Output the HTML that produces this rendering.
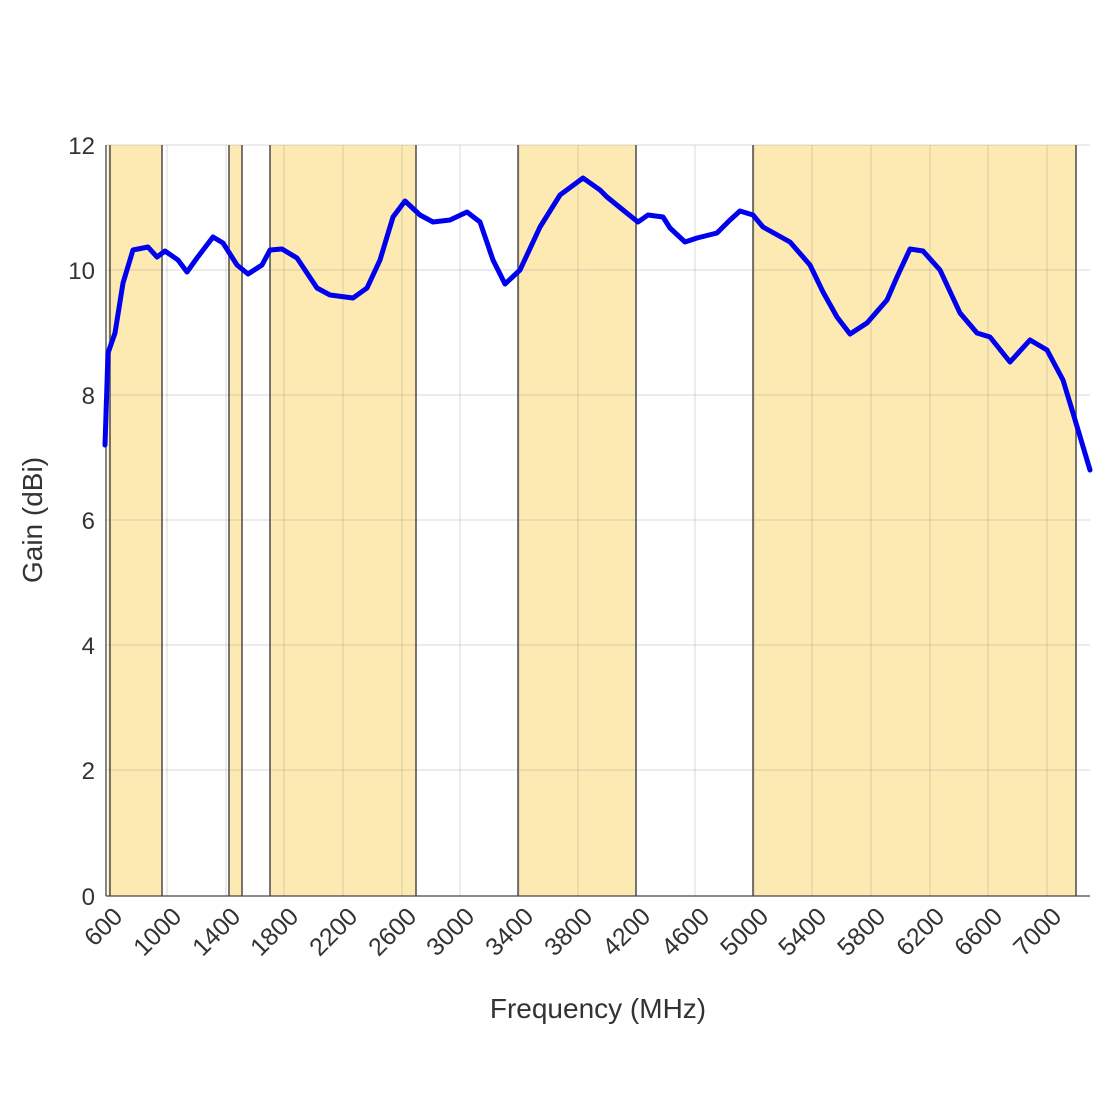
<!DOCTYPE html>
<html><head><meta charset="utf-8"><style>body{margin:0;background:#fff}svg text{font-family:"Liberation Sans",sans-serif;fill:#333}</style></head>
<body>
<svg width="1100" height="1100" viewBox="0 0 1100 1100">
<g fill="#fde9b2">
<rect x="108" y="145" width="54" height="751"/>
<rect x="229" y="145" width="13" height="751"/>
<rect x="270" y="145" width="146" height="751"/>
<rect x="518" y="145" width="118" height="751"/>
<rect x="753" y="145" width="323" height="751"/>
</g>
<g stroke="#888" stroke-opacity="0.25" stroke-width="1.2">
<line x1="106" y1="145" x2="1090" y2="145"/><line x1="106" y1="270" x2="1090" y2="270"/><line x1="106" y1="395" x2="1090" y2="395"/><line x1="106" y1="520" x2="1090" y2="520"/><line x1="106" y1="645" x2="1090" y2="645"/><line x1="106" y1="770" x2="1090" y2="770"/>
<line x1="167" y1="145" x2="167" y2="896"/><line x1="226" y1="145" x2="226" y2="896"/><line x1="284" y1="145" x2="284" y2="896"/><line x1="343" y1="145" x2="343" y2="896"/><line x1="402" y1="145" x2="402" y2="896"/><line x1="460" y1="145" x2="460" y2="896"/><line x1="519" y1="145" x2="519" y2="896"/><line x1="578" y1="145" x2="578" y2="896"/><line x1="636" y1="145" x2="636" y2="896"/><line x1="695" y1="145" x2="695" y2="896"/><line x1="754" y1="145" x2="754" y2="896"/><line x1="812" y1="145" x2="812" y2="896"/><line x1="871" y1="145" x2="871" y2="896"/><line x1="930" y1="145" x2="930" y2="896"/><line x1="988" y1="145" x2="988" y2="896"/><line x1="1047" y1="145" x2="1047" y2="896"/>
</g>
<g stroke="#555" stroke-width="1.6">
<line x1="110" y1="145" x2="110" y2="896"/><line x1="162" y1="145" x2="162" y2="896"/><line x1="229" y1="145" x2="229" y2="896"/><line x1="242" y1="145" x2="242" y2="896"/><line x1="270" y1="145" x2="270" y2="896"/><line x1="416" y1="145" x2="416" y2="896"/><line x1="518" y1="145" x2="518" y2="896"/><line x1="636" y1="145" x2="636" y2="896"/><line x1="753" y1="145" x2="753" y2="896"/><line x1="1076" y1="145" x2="1076" y2="896"/>
</g>
<g stroke="#444" stroke-width="1.3">
<line x1="106" y1="145" x2="106" y2="896"/><line x1="106" y1="896" x2="1090" y2="896"/>
</g>
<polyline fill="none" stroke="#0000ee" stroke-width="5" stroke-linejoin="round" stroke-linecap="round" points="105,445 108,353 115,333 123,283 133,250 148,247 157,257 165,251 178,260 187,272 197,258 213,237 223,243 237,265 248,274 262,265 270,250 282,249 297,258 317,288 330,295 353,298 367,288 380,260 393,217 405,201 420,215 433,222 450,220 467,212 480,222 493,260 505,284 520,270 540,227 560,195 583,178 600,190 607,197 623,210 638,222 648,215 663,217 670,228 685,242 697,238 717,233 730,220 740,211 753,215 763,227 790,242 810,265 823,292 837,317 850,334 867,323 887,300 897,277 910,249 923,251 940,270 960,313 977,333 990,337 1010,362 1030,340 1047,350 1063,380 1073,413 1090,470"/>
<g font-size="24" text-anchor="end">
<text x="95" y="154">12</text><text x="95" y="279">10</text><text x="95" y="404">8</text><text x="95" y="529">6</text><text x="95" y="654">4</text><text x="95" y="779">2</text><text x="95" y="905">0</text>
</g>
<g font-size="25" text-anchor="end">
<text transform="translate(124,918) rotate(-45)">600</text>
<text transform="translate(183,918) rotate(-45)">1000</text>
<text transform="translate(242,918) rotate(-45)">1400</text>
<text transform="translate(300,918) rotate(-45)">1800</text>
<text transform="translate(359,918) rotate(-45)">2200</text>
<text transform="translate(418,918) rotate(-45)">2600</text>
<text transform="translate(476,918) rotate(-45)">3000</text>
<text transform="translate(535,918) rotate(-45)">3400</text>
<text transform="translate(594,918) rotate(-45)">3800</text>
<text transform="translate(652,918) rotate(-45)">4200</text>
<text transform="translate(711,918) rotate(-45)">4600</text>
<text transform="translate(770,918) rotate(-45)">5000</text>
<text transform="translate(828,918) rotate(-45)">5400</text>
<text transform="translate(887,918) rotate(-45)">5800</text>
<text transform="translate(946,918) rotate(-45)">6200</text>
<text transform="translate(1004,918) rotate(-45)">6600</text>
<text transform="translate(1063,918) rotate(-45)">7000</text>
</g>
<text x="598" y="1018" font-size="28" text-anchor="middle">Frequency (MHz)</text>
<text transform="translate(42,520) rotate(-90)" font-size="28" text-anchor="middle">Gain (dBi)</text>
</svg>
</body></html>
